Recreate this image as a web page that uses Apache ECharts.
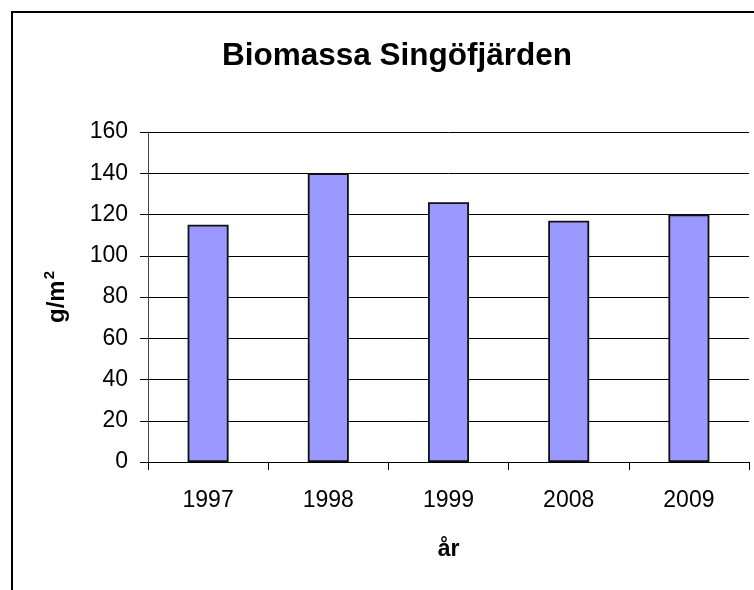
<!DOCTYPE html>
<html>
<head>
    <meta charset="utf-8">
    <title>Biomassa Singöfjärden</title>
    <script src="https://cdn.jsdelivr.net/npm/echarts@6/dist/echarts.min.js"></script>
    <style>
        html, body { margin: 0; padding: 0; background: #fff; }
    </style>
</head>
<body>
    <div id="main" style="width: 754px;height:590px;"></div>
    <script type="text/javascript">
        // data
        var years = ['1997', '1998', '1999', '2008', '2009'];
        var biomassa = [115, 140, 126, 117, 120];
        var yTicks = [0, 20, 40, 60, 80, 100, 120, 140, 160];

        var myChart = echarts.init(document.getElementById('main'));
        var font = 'Liberation Sans, Arial, sans-serif';

        var option = {
            backgroundColor: '#fff',
            animation: false,
            title: {
                text: 'Biomassa Singöfjärden',
                left: 217,
                top: 35,
                textStyle: { fontFamily: font, fontSize: 31.5, fontWeight: 'bold', color: '#000' }
            },
            // chart area frame
            graphic: [{
                type: 'rect',
                shape: { x: 12, y: 12, width: 780, height: 620 },
                style: { fill: 'none', stroke: '#000', lineWidth: 2 },
                silent: true
            }],
            grid: { left: 148, right: 5, top: 132, bottom: 128 },
            xAxis: {
                type: 'category',
                data: years,
                name: 'år',
                nameLocation: 'middle',
                nameGap: 76,
                nameTextStyle: { fontFamily: font, fontSize: 23, fontWeight: 'bold', color: '#000' },
                axisLine: { lineStyle: { color: '#000', width: 1 } },
                axisTick: { show: true, length: 8, alignWithLabel: false, lineStyle: { color: '#000' } },
                axisLabel: { fontFamily: font, fontSize: 23, color: '#000', margin: 27 }
            },
            yAxis: {
                type: 'value',
                min: yTicks[0],
                max: yTicks[yTicks.length - 1],
                interval: 20,
                name: '{a|g/m}{b|2}',
                nameLocation: 'middle',
                nameGap: 76,
                nameTextStyle: {
                    rich: {
                        a: { fontFamily: font, fontSize: 24, fontWeight: 'bold', color: '#000', lineHeight: 30 },
                        b: { fontFamily: font, fontSize: 15, fontWeight: 'bold', color: '#000', lineHeight: 30, padding: [0, 0, 14, 1] }
                    }
                },
                axisLine: { show: true, lineStyle: { color: '#444', width: 1 } },
                axisTick: { show: true, length: 8, lineStyle: { color: '#000' } },
                axisLabel: { fontFamily: font, fontSize: 23, color: '#000', margin: 20 },
                splitLine: { show: true, lineStyle: { color: '#000', width: 1 } }
            },
            series: [{
                name: 'Biomassa',
                type: 'bar',
                data: biomassa,
                barWidth: 41,
                itemStyle: { color: '#9999FF', borderColor: '#111', borderWidth: 1.8 }
            }]
        };

        myChart.setOption(option);
    </script>
</body>
</html>
